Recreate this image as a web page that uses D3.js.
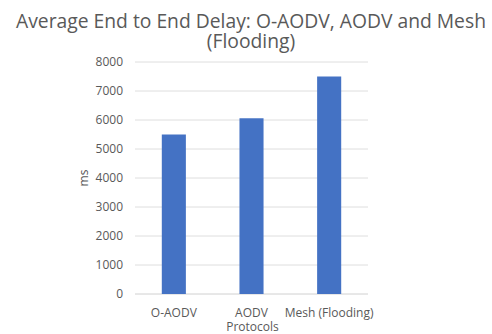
<!DOCTYPE html>
<html>
<head>
<meta charset="utf-8">
<script src="https://cdn.jsdelivr.net/npm/d3@7"></script>
<style>
  body { margin: 0; background: #fff; }
  svg { display: block; font-family: "Open Sans", "Liberation Sans", sans-serif; }
</style>
</head>
<body>
<div id="chart"></div>
<script>
const categories = ['O-AODV', 'AODV', 'Mesh (Flooding)'];
const delays = [5500, 6060, 7500];
const yTicks = [0, 1000, 2000, 3000, 4000, 5000, 6000, 7000, 8000];
const titleLines = ['Average End to End Delay: O-AODV, AODV and Mesh', '(Flooding)'];

const width = 492, height = 334;
const margin = { top: 62, right: 124, bottom: 40, left: 135 };
const innerWidth = width - margin.left - margin.right;
const innerHeight = height - margin.top - margin.bottom;

const svg = d3.select('#chart').append('svg').attr('width', width).attr('height', height);
const g = svg.append('g').attr('transform', `translate(${margin.left},${margin.top})`);

const x = d3.scaleBand().domain(categories).range([0, innerWidth]).paddingInner(0.69).paddingOuter(0.345);
const y = d3.scaleLinear().domain([0, 8000]).range([innerHeight, 0]);

// gridlines
g.append('g').selectAll('line').data(yTicks).join('line')
  .attr('x1', 0).attr('x2', innerWidth)
  .attr('y1', (d) => y(d)).attr('y2', (d) => y(d))
  .attr('stroke', (d) => d === 0 ? '#d0d0d0' : '#dedede').attr('stroke-width', 1);

// y tick labels
g.append('g').selectAll('text').data(yTicks).join('text')
  .attr('x', -12).attr('y', (d) => y(d) + 4)
  .attr('text-anchor', 'end').attr('fill', '#595959').attr('font-size', 12)
  .text((d) => d3.format('d')(d));

// bars
g.append('g').selectAll('rect').data(delays).join('rect')
  .attr('x', (d, i) => x(categories[i]))
  .attr('y', (d) => y(d))
  .attr('width', x.bandwidth())
  .attr('height', (d) => innerHeight - y(d))
  .attr('fill', '#4472c4');

// category labels
g.append('g').selectAll('text').data(categories).join('text')
  .attr('x', (d) => x(d) + x.bandwidth() / 2).attr('y', innerHeight + 23)
  .attr('text-anchor', 'middle').attr('fill', '#595959').attr('font-size', 12)
  .text((d) => d);

// axis titles
g.append('text')
  .attr('x', innerWidth / 2 + 1).attr('y', innerHeight + 37)
  .attr('text-anchor', 'middle').attr('fill', '#595959').attr('font-size', 12)
  .text('Protocols');
g.append('text')
  .attr('transform', 'rotate(-90)').attr('x', -(y(4000))).attr('y', -47)
  .attr('text-anchor', 'middle').attr('fill', '#595959').attr('font-size', 12)
  .text('ms');

// chart title
svg.append('g').selectAll('text').data(titleLines).join('text')
  .attr('x', 251).attr('y', (d, i) => 28 + i * 20)
  .attr('text-anchor', 'middle').attr('fill', '#595959').attr('font-size', 19.3)
  .text((d) => d);
</script>
</body>
</html>
